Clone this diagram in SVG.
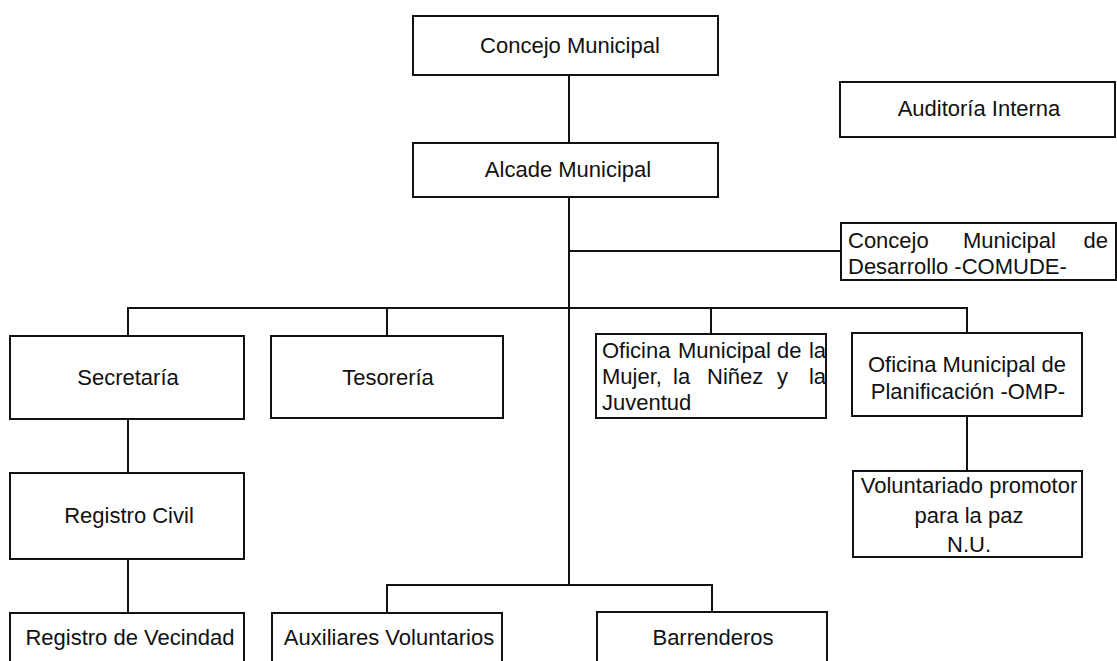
<svg xmlns="http://www.w3.org/2000/svg" width="1117" height="661" viewBox="0 0 1117 661">
<style>
rect.box{fill:#fff;stroke:#111;stroke-width:2}
.c line{stroke:#111;stroke-width:2}
text{font-family:"Liberation Sans",Arial,sans-serif;font-size:22px;fill:#111}
.m{text-anchor:middle}
.e{text-anchor:end}
</style>
<rect width="1117" height="661" fill="#fff"/>
<g class="c" id="connectors">
<line x1="569" y1="75" x2="569" y2="143"/>
<line x1="569" y1="197" x2="569" y2="585"/>
<line x1="569" y1="251" x2="841" y2="251"/>
<line x1="127" y1="308" x2="968" y2="308"/>
<line x1="128" y1="308" x2="128" y2="336"/>
<line x1="387" y1="308" x2="387" y2="336"/>
<line x1="711" y1="308" x2="711" y2="334"/>
<line x1="967" y1="308" x2="967" y2="333"/>
<line x1="128" y1="419" x2="128" y2="473"/>
<line x1="128" y1="559" x2="128" y2="613"/>
<line x1="386" y1="585" x2="713" y2="585"/>
<line x1="387" y1="585" x2="387" y2="613"/>
<line x1="712" y1="585" x2="712" y2="612"/>
<line x1="967" y1="416" x2="967" y2="471"/>
</g>
<g id="concejo"><rect class="box" x="413" y="16" width="305" height="59"/><text class="m" x="570" y="53">Concejo Municipal</text></g>
<g id="alcade"><rect class="box" x="413" y="143" width="305" height="54"/><text class="m" x="568" y="177">Alcade Municipal</text></g>
<g id="auditoria"><rect class="box" x="840" y="82" width="275" height="55"/><text class="m" x="979" y="116">Auditoría Interna</text></g>
<g id="comude"><rect class="box" x="841" y="223" width="275" height="57"/>
<text x="848" y="248">Concejo</text><text x="963" y="248">Municipal</text><text class="e" x="1108" y="248">de</text>
<text x="848" y="274">Desarrollo -COMUDE-</text></g>
<g id="secretaria"><rect class="box" x="10" y="336" width="234" height="83"/><text class="m" x="128" y="385">Secretaría</text></g>
<g id="tesoreria"><rect class="box" x="271" y="336" width="232" height="82"/><text class="m" x="388" y="385">Tesorería</text></g>
<g id="mujer"><rect class="box" x="596" y="334" width="230" height="84"/>
<text x="602" y="358">Oficina</text><text x="678" y="358">Municipal</text><text x="777" y="358">de</text><text class="e" x="826" y="358">la</text>
<text x="602" y="384">Mujer,</text><text x="673" y="384">la</text><text x="707" y="384">Niñez</text><text x="777" y="384">y</text><text class="e" x="826" y="384">la</text>
<text x="602" y="410">Juventud</text></g>
<g id="omp"><rect class="box" x="852" y="333" width="230" height="83"/><text class="m" x="967" y="372">Oficina Municipal de</text><text class="m" x="968" y="399">Planificación -OMP-</text></g>
<g id="registro-civil"><rect class="box" x="10" y="473" width="234" height="86"/><text class="m" x="129" y="523">Registro Civil</text></g>
<g id="voluntariado"><rect class="box" x="853" y="471" width="229" height="86"/><text class="m" x="969" y="493">Voluntariado promotor</text><text class="m" x="969" y="523">para la paz</text><text class="m" x="969" y="552">N.U.</text></g>
<g id="vecindad"><rect class="box" x="10" y="613" width="234" height="60"/><text class="m" x="130" y="645">Registro de Vecindad</text></g>
<g id="auxiliares"><rect class="box" x="272" y="613" width="230" height="60"/><text class="m" x="389" y="645">Auxiliares Voluntarios</text></g>
<g id="barrenderos"><rect class="box" x="597" y="612" width="230" height="61"/><text class="m" x="713" y="645">Barrenderos</text></g>
</svg>
